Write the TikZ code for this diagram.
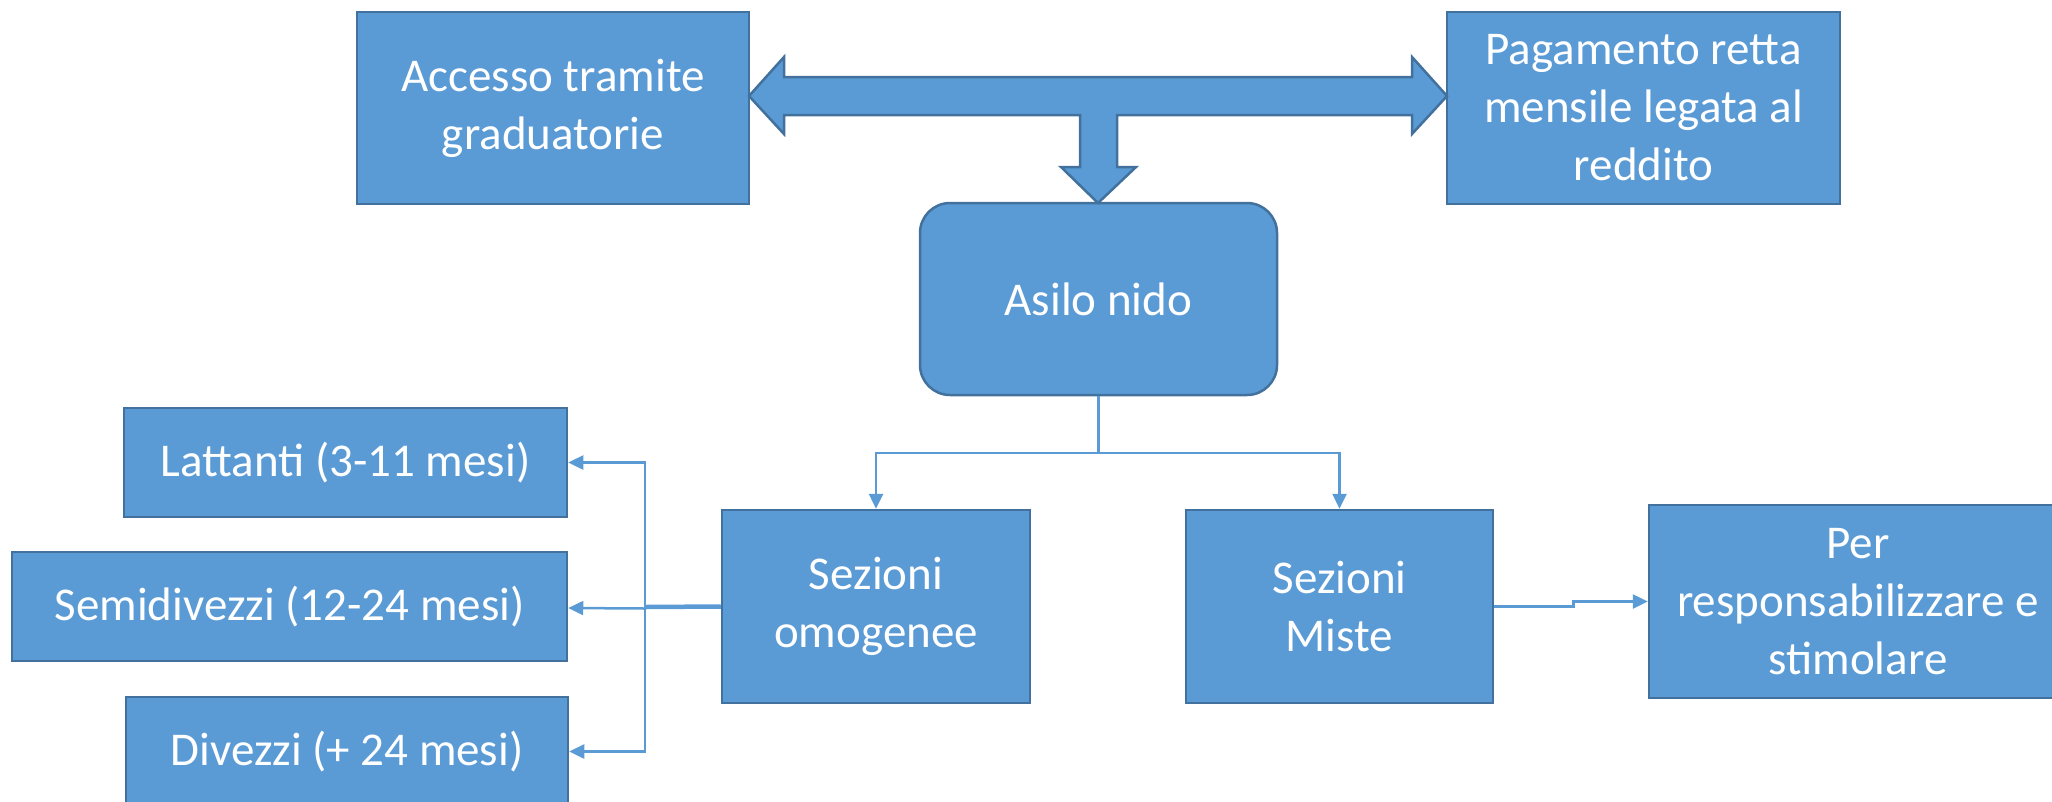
\documentclass[tikz,border=0pt]{standalone}
\usepackage{fontspec}
\setmainfont{Carlito}
\usetikzlibrary{arrows.meta}
\definecolor{fillb}{HTML}{5B9BD5}
\definecolor{edgeb}{HTML}{41719C}
\begin{document}
\begin{tikzpicture}[x=1pt,y=-1pt,
  box/.style={draw=edgeb, fill=fillb, line width=2.5pt, text=white,
    font=\fontsize{47}{58}\selectfont, align=center, inner sep=0pt},
  conn/.style={draw=fillb, line width=2.5pt, -{Triangle[length=15pt,width=14pt]}},
  plain/.style={draw=fillb, line width=2.5pt}]
\useasboundingbox (0,0) rectangle (2052,801);
\clip (0,0) rectangle (2052,801);
% boxes
\node[box, minimum width=392pt, minimum height=192pt] (acc) at (553,108) {Accesso tramite\\graduatorie};
\node[box, minimum width=393pt, minimum height=192pt] (pag) at (1643.5,108) {Pagamento retta\\mensile legata al\\reddito};
\node[box, rounded corners=30pt, minimum width=357pt, minimum height=192pt] (asilo) at (1098.5,299) {Asilo nido};
\node[box, minimum width=443pt, minimum height=109pt] (lat) at (345.5,462.5) {Lattanti (3-11 mesi)};
\node[box, minimum width=555pt, minimum height=109pt] (semi) at (289.5,606.5) {Semidivezzi (12-24 mesi)};
\node[box, minimum width=442pt, minimum height=109pt] (div) at (347,751.5) {Divezzi (+ 24 mesi)};
\node[box, minimum width=308pt, minimum height=193pt] (omo) at (876,606.5) {Sezioni\\omogenee};
\node[box, minimum width=307pt, minimum height=193pt] (mis) at (1339.5,606.5) {Sezioni\\Miste};
\node[box, minimum width=418pt, minimum height=193pt] (per) at (1858,601.5) {Per\\responsabilizzare e\\stimolare};
% big block arrow
\draw[fill=fillb, draw=edgeb, line width=2.5pt, line join=miter]
  (749,96) -- (784,57) -- (784,77) -- (1412,77) -- (1412,57) -- (1447,96)
  -- (1412,134) -- (1412,115) -- (1117,115) -- (1117,167) -- (1136,167)
  -- (1098,203) -- (1061,167) -- (1080,167) -- (1080,115) -- (784,115)
  -- (784,134) -- cycle;
% connectors
\coordinate (jn) at (1098.5,453);
\coordinate (jl) at (645,607);
\draw[plain] (asilo.south) -- (jn);
\draw[conn] (jn) -| (omo.north);
\draw[conn] (jn) -| (mis.north);
\draw[plain, line width=4.5pt] (omo.west) -- (jl);
\draw[conn] (jl) |- (lat.east);
\draw[conn] ([yshift=-1.5pt]jl) -- ([yshift=-1.5pt]semi.east);
\draw[conn] (jl) |- (div.east);
\draw[conn] (mis.east) -- ++(79,0) |- (per.west);
\end{tikzpicture}
\end{document}
